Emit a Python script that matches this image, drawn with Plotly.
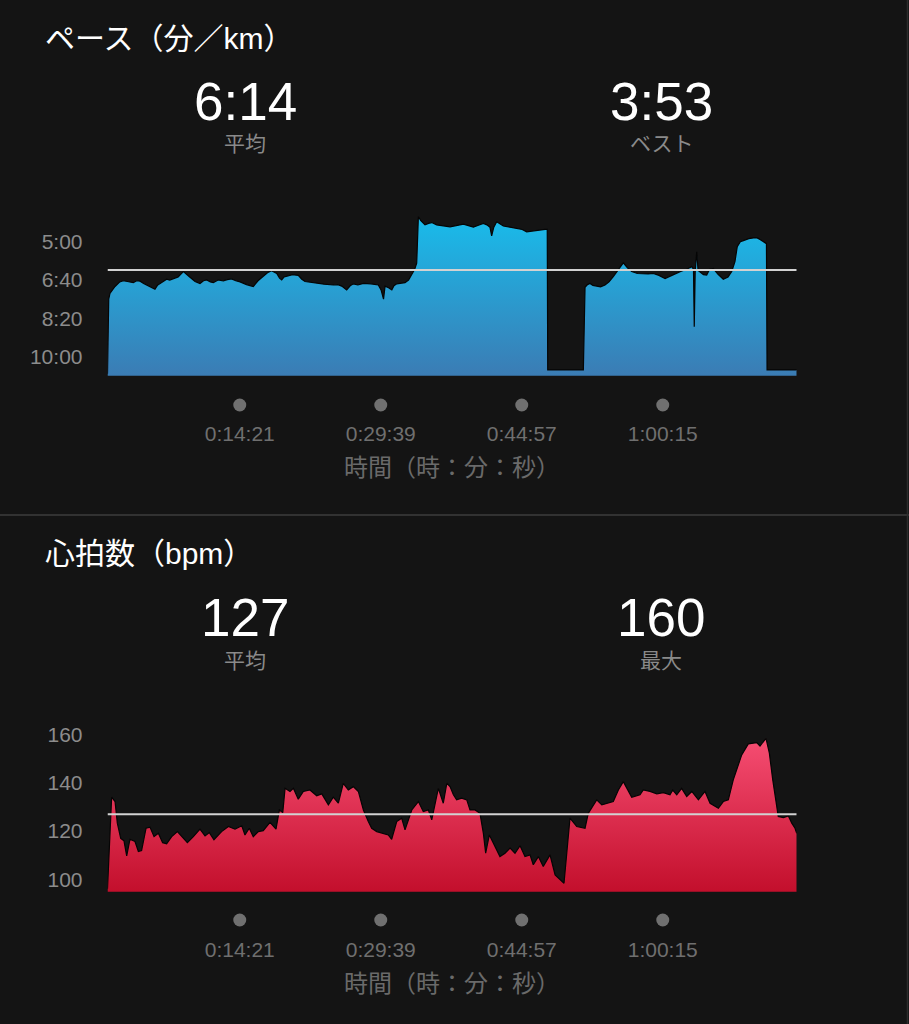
import plotly.graph_objects as go

# ---------------- data ----------------
# Pace (seconds per km) over elapsed time (seconds)
pace_t = [0, 8, 16, 49, 80, 103, 130, 168, 190, 212, 235, 255, 280, 309, 325, 342, 365, 385, 405, 428, 460,
          494, 515, 537, 570, 602, 625, 646, 670, 689, 720, 754, 780, 808, 835, 863, 905, 949, 980, 1014, 1045,
          1068, 1085, 1102, 1120, 1134, 1150, 1167, 1205, 1242, 1265, 1286, 1320, 1362, 1410, 1470, 1500, 1525,
          1557, 1580, 1601, 1630, 1666, 1715, 1763, 1781, 1797, 1807, 1830, 1851, 1865, 1883, 1910, 1937, 1960,
          1981, 2000, 2013, 2020, 2024, 2040, 2067, 2090, 2111, 2143, 2190, 2230, 2270, 2317, 2350, 2382, 2415,
          2447, 2470, 2490, 2501, 2515, 2534, 2555, 2577, 2620, 2664, 2700, 2729, 2790, 2849, 2863, 2866, 3098,
          3105, 3109, 3125, 3141, 3160, 3185, 3210, 3239, 3265, 3293, 3330, 3358, 3385, 3413, 3450, 3488, 3520,
          3554, 3590, 3630, 3680, 3728, 3770, 3804, 3815, 3820, 3826, 3836, 3845, 3857, 3880, 3901, 3920, 3944,
          3975, 4009, 4040, 4064, 4085, 4100, 4120, 4140, 4175, 4205, 4230, 4248, 4270, 4281, 4290, 4294, 4487]
pace_s = [645, 450, 435, 417, 405, 402, 404, 407, 402, 403, 409, 413, 420, 424, 414, 409, 402, 398, 400, 397, 392,
          378, 386, 393, 404, 409, 402, 400, 405, 407, 400, 402, 399, 397, 402, 405, 412, 417, 402, 391, 380,
          376, 380, 383, 395, 400, 392, 390, 386, 388, 398, 404, 406, 409, 411, 413, 412, 416,
          426, 415, 410, 413, 409, 410, 413, 426, 450, 416, 420, 426, 415, 410, 409, 407, 400,
          387, 372, 356, 300, 235, 245, 256, 252, 250, 256, 258, 261, 258, 254, 258, 262, 257,
          252, 256, 262, 285, 262, 248, 254, 259, 262, 265, 268, 274, 270, 268, 268, 635, 635,
          440, 419, 412, 409, 414, 416, 418, 413, 405, 391, 370, 355, 368, 378, 383, 384, 384,
          383, 388, 396, 386, 378, 372, 365, 372, 522, 380, 326, 375, 378, 386, 387, 372, 370,
          385, 398, 392, 378, 352, 313, 300, 297, 292, 290, 290, 294, 300, 304, 305, 635, 635]

# Heart rate (bpm) over elapsed time (seconds)
hr_t = [0, 10, 27, 49, 64, 86, 107, 125, 146, 179, 201, 222, 251, 277, 303, 331, 359, 385, 418, 455, 483, 520,
        559, 602, 635, 663, 693, 743, 787, 830, 874, 895, 923, 949, 982, 1014, 1058, 1097, 1119, 1141, 1156, 1188,
        1210, 1242, 1275, 1318, 1362, 1395, 1438, 1470, 1503, 1535, 1568, 1600, 1633, 1666, 1698, 1720, 1753, 1796,
        1828, 1850, 1883, 1915, 1937, 1981, 2024, 2056, 2089, 2111, 2154, 2186, 2209, 2230, 2252, 2273, 2306, 2339,
        2360, 2393, 2425, 2447, 2462, 2486, 2512, 2555, 2588, 2621, 2653, 2686, 2718, 2751, 2772, 2805, 2837, 2881,
        2914, 2946, 2972, 2990, 3011, 3055, 3109, 3130, 3163, 3185, 3218, 3250, 3293, 3326, 3358, 3413, 3467, 3488,
        3532, 3576, 3619, 3662, 3680, 3706, 3738, 3771, 3804, 3847, 3890, 3923, 3977, 4009, 4042, 4074, 4129, 4172,
        4227, 4248, 4287, 4309, 4331, 4367, 4400, 4433, 4455, 4476, 4487]
hr_v = [96, 108, 134.1, 132.3, 123.3, 117, 116, 109.7, 116.6, 115.7, 111.5, 111.9, 121.2, 121.6, 117.7, 119.1,
        115.2, 114.7, 117.7, 119.8, 118, 115.2, 117.7, 120.8, 118, 119.4, 116.4, 119.8, 121.9, 120.8, 122.2, 118.4,
        121.2, 117.7, 119.8, 120.2, 123.6, 120.8, 128.8, 127.7, 137.8, 136.5, 137.8, 133.3, 136.5, 137.1, 134.7,
        135.5, 130.9, 134.1, 131.6, 139.9, 137.1, 138.5, 136.5, 128.8, 124, 121.2, 119.8, 119.1, 118.4, 116.6, 124,
        125.4, 120.5, 128.8, 132.3, 128.1, 128.8, 124.7, 137.8, 131.6, 139.9, 138.5, 135.1, 133, 133.7, 133, 128.8,
        128.8, 127.4, 119.1, 110.8, 118.4, 115, 109.4, 110.8, 112.9, 110.8, 113.9, 109.4, 110.1, 106, 109.4, 105.3,
        110.1, 101.8, 99.7, 98.3, 110.8, 125.4, 121.9, 121.2, 127.4, 130.9, 133, 130.9, 131.6, 132.3, 137.1, 140.6,
        134.1, 135.1, 137.1, 136.5, 135.5, 136, 135.1, 137.1, 135.1, 137.8, 134.4, 136.5, 133, 136.5, 131.6, 129.5,
        132.3, 133, 141.3, 151.7, 156.3, 156.8, 155.4, 158.6, 152.4, 141.3, 126.1, 125.6, 126.3, 123.3, 121.2, 119.1]

T_END = 4487
x_tickvals = [861, 1779, 2697, 3615]
x_ticktext = ["0:14:21", "0:29:39", "0:44:57", "1:00:15"]
x_title = "時間（時：分：秒）"

pace_tickvals = [300, 400, 500, 600]
pace_ticktext = ["5:00", "6:40", "8:20", "10:00"]
hr_tickvals = [100, 120, 140, 160]
hr_ticktext = ["100", "120", "140", "160"]

pace_avg = 374
hr_avg = 127
pace_title = "ペース（分／km）"
hr_title = "心拍数（bpm）"
pace_stats = ["6:14", "3:53"]
pace_stat_labels = ["平均", "ベスト"]
hr_stats = ["127", "160"]
hr_stat_labels = ["平均", "最大"]

# ---------------- styling ----------------
W, H = 909, 1024
BG = "#141414"
FONT = "Liberation Sans, Noto Sans CJK JP, sans-serif"


def px(x):
    return x / W


def py(y):
    return 1 - y / H


PACE_BOTTOM, PACE_TOP = 650, 191
HR_BOTTOM, HR_TOP = 94.8, 168.3

fig = go.Figure()

# pace area (baseline + filled series)
fig.add_trace(go.Scatter(x=[0, T_END], y=[PACE_BOTTOM + 30, PACE_BOTTOM + 30], mode="lines",
                         line=dict(width=0), hoverinfo="skip", xaxis="x", yaxis="y"))
fig.add_trace(go.Scatter(x=pace_t, y=pace_s, mode="lines", fill="tonexty",
                         line=dict(color="#050505", width=1.2),
                         fillgradient=dict(type="vertical",
                                           colorscale=[[0, "#3b7cb4"], [1, "#18bdec"]],
                                           start=PACE_BOTTOM, stop=225),
                         xaxis="x", yaxis="y"))
fig.add_trace(go.Scatter(x=[0, T_END], y=[pace_avg, pace_avg], mode="lines",
                         line=dict(color="#d2d2d2", width=2), xaxis="x", yaxis="y"))

# heart rate area
fig.add_trace(go.Scatter(x=hr_t, y=hr_v, mode="lines", fill="tozeroy",
                         line=dict(color="#050505", width=1.2),
                         fillgradient=dict(type="vertical",
                                           colorscale=[[0, "#c30f2c"], [1, "#f74f74"]],
                                           start=HR_BOTTOM, stop=160),
                         xaxis="x2", yaxis="y2"))
fig.add_trace(go.Scatter(x=[0, T_END], y=[hr_avg, hr_avg], mode="lines",
                         line=dict(color="#d2d2d2", width=2), xaxis="x2", yaxis="y2"))

# tick dots
dot_style = dict(mode="markers", marker=dict(color="#707070", size=13), hoverinfo="skip")
fig.add_trace(go.Scatter(x=x_tickvals, y=[0] * len(x_tickvals), xaxis="x", yaxis="y3", **dot_style))
fig.add_trace(go.Scatter(x=x_tickvals, y=[0] * len(x_tickvals), xaxis="x2", yaxis="y4", **dot_style))

xdom = [px(107.5), px(796.7)]
xaxis_common = dict(domain=xdom, range=[0, T_END], tickvals=x_tickvals, ticktext=x_ticktext,
                    showgrid=False, zeroline=False, showline=False, ticks="",
                    tickfont=dict(family=FONT, size=21, color="#6f6f6f"),
                    ticklabelstandoff=43,
                    title=dict(text=x_title, font=dict(family=FONT, size=24, color="#6a6a6a"), standoff=15))
yaxis_common = dict(showgrid=False, zeroline=False, showline=False, ticks="",
                    tickfont=dict(family=FONT, size=21, color="#8c8c8c"), ticklabelstandoff=24)

fig.update_layout(
    width=W, height=H, margin=dict(l=0, r=0, t=0, b=0),
    paper_bgcolor=BG, plot_bgcolor=BG, showlegend=False,
    font=dict(family=FONT),
    xaxis=dict(anchor="y", **xaxis_common),
    yaxis=dict(anchor="x", domain=[py(375.7), py(200)], range=[PACE_BOTTOM, PACE_TOP],
               tickvals=pace_tickvals, ticktext=pace_ticktext, **yaxis_common),
    xaxis2=dict(anchor="y2", **xaxis_common),
    yaxis2=dict(anchor="x2", domain=[py(891.7), py(715)], range=[HR_BOTTOM, HR_TOP],
                tickvals=hr_tickvals, ticktext=hr_ticktext, **yaxis_common),
    yaxis3=dict(anchor="x", domain=[py(415), py(395)], range=[-1, 1], visible=False),
    yaxis4=dict(anchor="x2", domain=[py(930), py(910)], range=[-1, 1], visible=False),
)

ann = []


def add_text(text, x, y, size, color, xanchor="center"):
    ann.append(dict(text=text, x=px(x), y=py(y), xref="paper", yref="paper", xanchor=xanchor,
                    yanchor="middle", showarrow=False, font=dict(family=FONT, size=size, color=color)))


add_text(pace_title, 43, 38, 30, "#ffffff", "left")
add_text(hr_title, 43, 553, 30, "#ffffff", "left")
for cx, val, lab in zip([245, 661], pace_stats, pace_stat_labels):
    add_text(val, cx, 101, 53, "#ffffff")
    add_text(lab, cx, 143, 21, "#8a8a8a")
for cx, val, lab in zip([245, 661], hr_stats, hr_stat_labels):
    add_text(val, cx, 617, 53, "#ffffff")
    add_text(lab, cx, 660, 21, "#8a8a8a")
fig.update_layout(annotations=ann)

fig.add_shape(type="line", xref="paper", yref="paper", x0=0, x1=1, y0=py(515), y1=py(515),
              line=dict(color="#3c3c3c", width=1.5))
fig.add_shape(type="line", xref="paper", yref="paper", x0=px(907.5), x1=px(907.5), y0=0, y1=1,
              line=dict(color="#2c2c2c", width=1.5))

fig.write_html("out.html",
               config=dict(displayModeBar=False),
               post_script="document.body.style.margin='0';"
                           "document.body.style.background='#141414';"
                           "document.documentElement.style.overflow='hidden';")
